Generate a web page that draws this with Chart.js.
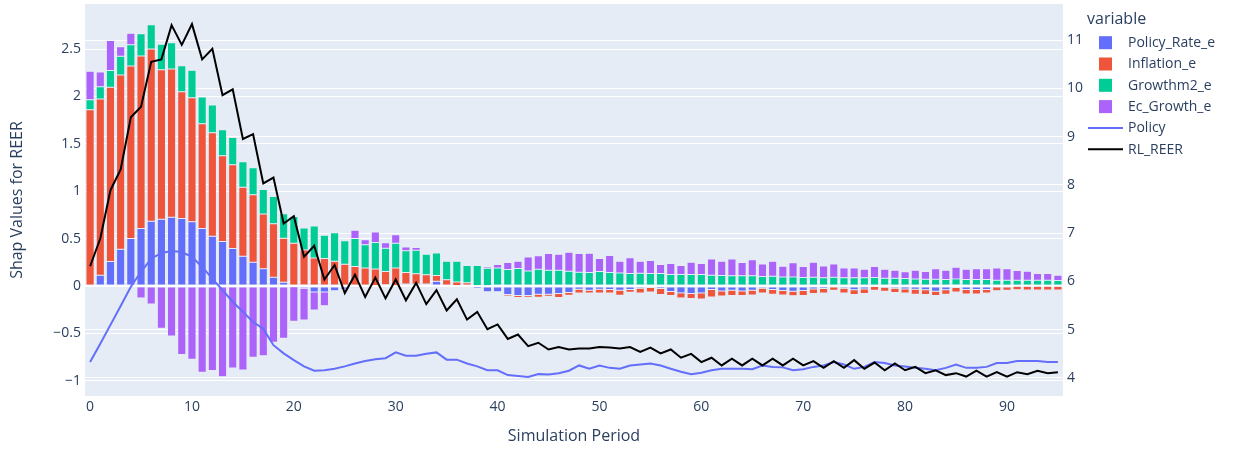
<!DOCTYPE html>
<html>
<head>
<meta charset="utf-8">
<title>Shap Values for REER</title>
<script src="https://cdn.jsdelivr.net/npm/chart.js@4/dist/chart.umd.min.js"></script>
<style>
  html, body { margin: 0; padding: 0; background: #ffffff; }
  #wrap { width: 1236px; height: 451px; }
</style>
</head>
<body>
<div id="wrap"><canvas id="c" width="1236" height="451"></canvas></div>
<script>
// Simulation periods 0..95
const periods = Array.from({ length: 96 }, (_, i) => i);

// SHAP contributions per period (left axis)
const policyRateE = [
  -0.015, 0.113, 0.257, 0.387, 0.50, 0.606, 0.683, 0.704, 0.725, 0.711,
  0.676, 0.606, 0.525, 0.468, 0.394, 0.313, 0.25, 0.18, 0.092, 0.039,
  -0.01, -0.025, -0.065, -0.065, -0.052, -0.035, -0.022, -0.008, 0.005, 0.012,
  0.005, 0.02, 0.02, 0.02, 0.05, 0.01, 0.005, -0.015, -0.028, -0.063,
  -0.063, -0.092, -0.102, -0.102, -0.088, -0.088, -0.081, -0.07, -0.035, -0.046,
  -0.035, -0.039, -0.046, -0.039, -0.025, -0.018, -0.028, -0.06, -0.074, -0.081,
  -0.074, -0.039, -0.053, -0.046, -0.053, -0.046, -0.025, -0.039, -0.049, -0.056,
  -0.049, -0.032, -0.028, -0.011, -0.025, -0.042, -0.032, -0.007, -0.014, -0.025,
  -0.032, -0.035, -0.042, -0.056, -0.042, -0.018, -0.039, -0.039, -0.039, -0.011,
  -0.011, -0.005, -0.005, -0.004, -0.004, -0.004
];
const inflationE = [
  1.86, 1.86, 1.84, 1.84, 1.82, 1.82, 1.817, 1.578, 1.564, 1.338,
  1.31, 1.105, 1.091, 0.905, 0.884, 0.729, 0.711, 0.58, 0.563, 0.465,
  0.451, 0.38, 0.294, 0.29, 0.26, 0.228, 0.205, 0.188, 0.173, 0.14,
  0.185, 0.122, 0.108, 0.098, 0.06, 0.054, 0.037, 0.032, 0.005, 0.003,
  -0.01, -0.015, -0.021, -0.018, -0.032, -0.021, -0.042, -0.028, -0.039, -0.028,
  -0.039, -0.035, -0.053, -0.028, -0.049, -0.046, -0.063, -0.042, -0.053, -0.053,
  -0.063, -0.077, -0.053, -0.056, -0.049, -0.049, -0.049, -0.049, -0.046, -0.049,
  -0.053, -0.049, -0.046, -0.035, -0.049, -0.049, -0.049, -0.039, -0.042, -0.046,
  -0.042, -0.053, -0.049, -0.046, -0.046, -0.046, -0.046, -0.046, -0.035, -0.039,
  -0.035, -0.037, -0.039, -0.039, -0.039, -0.039
];
const growthM2E = [
  0.105, 0.13, 0.176, 0.197, 0.225, 0.236, 0.257, 0.268, 0.278, 0.275,
  0.289, 0.282, 0.292, 0.275, 0.289, 0.268, 0.285, 0.257, 0.289, 0.257,
  0.282, 0.231, 0.338, 0.244, 0.30, 0.249, 0.295, 0.245, 0.28, 0.244,
  0.259, 0.229, 0.247, 0.215, 0.238, 0.196, 0.218, 0.183, 0.21, 0.183,
  0.19, 0.173, 0.183, 0.158, 0.176, 0.165, 0.165, 0.155, 0.144, 0.141,
  0.151, 0.141, 0.137, 0.13, 0.134, 0.13, 0.13, 0.12, 0.12, 0.12,
  0.12, 0.113, 0.109, 0.106, 0.106, 0.106, 0.099, 0.102, 0.095, 0.095,
  0.088, 0.092, 0.085, 0.092, 0.085, 0.085, 0.085, 0.088, 0.081, 0.081,
  0.077, 0.074, 0.07, 0.07, 0.067, 0.074, 0.067, 0.067, 0.067, 0.06,
  0.06, 0.06, 0.06, 0.06, 0.06, 0.056
];
const ecGrowthE = [
  0.30, 0.155, 0.317, 0.10, 0.12, -0.127, -0.19, -0.447, -0.528, -0.725,
  -0.775, -0.912, -0.894, -0.958, -0.866, -0.887, -0.754, -0.736, -0.595, -0.553,
  -0.363, -0.335, -0.19, -0.145, 0, 0, 0.088, 0.055, 0.11, 0.06,
  0.09, 0.04, 0.03, 0.005, 0.01, -0.02, -0.02, 0, 0, 0.017,
  0.035, 0.073, 0.077, 0.148, 0.141, 0.177, 0.17, 0.201, 0.198, 0.204,
  0.138, 0.179, 0.123, 0.166, 0.126, 0.138, 0.095, 0.116, 0.095, 0.13,
  0.116, 0.172, 0.151, 0.179, 0.14, 0.169, 0.133, 0.158, 0.113, 0.148,
  0.116, 0.158, 0.126, 0.14, 0.105, 0.105, 0.091, 0.116, 0.095, 0.084,
  0.071, 0.091, 0.081, 0.11, 0.098, 0.123, 0.109, 0.113, 0.113, 0.13,
  0.12, 0.102, 0.095, 0.07, 0.07, 0.057
];

// Levels on the right axis
const policyLevel = [
  4.33, 4.71, 5.10, 5.49, 5.89, 6.20, 6.47, 6.59, 6.63, 6.61,
  6.51, 6.30, 6.06, 5.82, 5.58, 5.37, 5.16, 5.02, 4.68, 4.51,
  4.37, 4.24, 4.15, 4.16, 4.19, 4.24, 4.30, 4.35, 4.39, 4.41,
  4.53, 4.46, 4.46, 4.50, 4.53, 4.38, 4.38, 4.30, 4.24, 4.16,
  4.16, 4.06, 4.04, 4.02, 4.08, 4.07, 4.10, 4.15, 4.26, 4.19,
  4.26, 4.21, 4.19, 4.26, 4.28, 4.30, 4.26, 4.19, 4.13, 4.08,
  4.11, 4.16, 4.19, 4.19, 4.19, 4.18, 4.26, 4.23, 4.22, 4.16,
  4.18, 4.23, 4.26, 4.33, 4.28, 4.19, 4.23, 4.33, 4.31, 4.26,
  4.24, 4.21, 4.19, 4.16, 4.21, 4.28, 4.21, 4.21, 4.23, 4.31,
  4.31, 4.35, 4.35, 4.35, 4.33, 4.33
];
const rlReer = [
  6.315, 6.89, 7.89, 8.32, 9.40, 9.62, 10.55, 10.60, 11.31, 10.90,
  11.33, 10.60, 10.82, 9.86, 9.98, 8.95, 9.05, 8.03, 8.15, 7.20,
  7.35, 6.51, 6.74, 6.04, 6.34, 5.76, 6.14, 5.68, 6.08, 5.65,
  6.04, 5.61, 5.97, 5.53, 5.82, 5.40, 5.63, 5.21, 5.37, 5.01,
  5.11, 4.81, 4.90, 4.66, 4.73, 4.59, 4.64, 4.59, 4.61, 4.61,
  4.64, 4.63, 4.61, 4.64, 4.54, 4.63, 4.51, 4.59, 4.42, 4.50,
  4.33, 4.42, 4.26, 4.40, 4.26, 4.40, 4.26, 4.40, 4.26, 4.40,
  4.26, 4.35, 4.21, 4.35, 4.21, 4.37, 4.19, 4.32, 4.16, 4.30,
  4.16, 4.23, 4.10, 4.16, 4.06, 4.10, 4.03, 4.15, 4.03, 4.12,
  4.03, 4.12, 4.08, 4.15, 4.10, 4.12
];

const FONT = '"Open Sans", Verdana, Arial, sans-serif';
const INK = '#2a3f5f';
const PLOT_BG = '#E5ECF6';

Chart.defaults.font.family = FONT;
Chart.defaults.color = INK;

const fmt = v => {
  const n = Number(v.toFixed(3));
  return (n < 0 ? '\u2212' : '') + String(Math.abs(n));
};

// Light panel behind the plotting area
const plotBackground = {
  id: 'plotBackground',
  beforeDraw(chart) {
    const { ctx, chartArea: a } = chart;
    ctx.save();
    ctx.fillStyle = PLOT_BG;
    ctx.fillRect(a.left, a.top, a.right - a.left, a.bottom - a.top);
    ctx.restore();
  }
};

// Legend column on the right, with a "variable" heading
const sideLegend = {
  id: 'sideLegend',
  afterDraw(chart) {
    const { ctx } = chart;
    const x0 = chart.chartArea.right + 24;
    ctx.save();
    ctx.textAlign = 'left';
    ctx.textBaseline = 'middle';
    ctx.fillStyle = INK;
    ctx.font = '16px ' + FONT;
    ctx.fillText('variable', x0, 19);
    ctx.font = '14px ' + FONT;
    chart.data.datasets.forEach((ds, i) => {
      const y = 42.7 + i * 21.3;
      if (ds.type === 'line') {
        ctx.strokeStyle = ds.borderColor;
        ctx.lineWidth = 2;
        ctx.beginPath();
        ctx.moveTo(x0 + 1, y);
        ctx.lineTo(x0 + 36, y);
        ctx.stroke();
      } else {
        ctx.fillStyle = ds.backgroundColor;
        ctx.fillRect(x0 + 12, y - 6.5, 13, 13);
      }
      ctx.fillStyle = INK;
      ctx.fillText(ds.label, x0 + 41, y + 0.5);
    });
    ctx.restore();
  }
};

const barStyle = {
  type: 'bar',
  yAxisID: 'y',
  order: 2,
  borderColor: PLOT_BG,
  borderWidth: 0.5,
  borderSkipped: false,
  categoryPercentage: 1.0,
  barPercentage: 0.8
};

new Chart(document.getElementById('c'), {
  data: {
    labels: periods,
    datasets: [
      { ...barStyle, label: 'Policy_Rate_e', data: policyRateE, backgroundColor: '#636efa' },
      { ...barStyle, label: 'Inflation_e', data: inflationE, backgroundColor: '#EF553B' },
      { ...barStyle, label: 'Growthm2_e', data: growthM2E, backgroundColor: '#00cc96' },
      { ...barStyle, label: 'Ec_Growth_e', data: ecGrowthE, backgroundColor: '#ab63fa' },
      { type: 'line', label: 'Policy', data: policyLevel, yAxisID: 'y2', order: 1,
        borderColor: '#636efa', borderWidth: 2, pointRadius: 0, tension: 0, fill: false },
      { type: 'line', label: 'RL_REER', data: rlReer, yAxisID: 'y2', order: 0,
        borderColor: '#000000', borderWidth: 2, pointRadius: 0, tension: 0, fill: false }
    ]
  },
  options: {
    responsive: false,
    animation: false,
    devicePixelRatio: 1,
    layout: { padding: { top: 4, left: 0, right: 0, bottom: 0 } },
    plugins: {
      legend: { display: false },
      tooltip: { enabled: false }
    },
    scales: {
      x: {
        type: 'category',
        stacked: true,
        offset: true,
        grid: { display: false, drawTicks: false },
        border: { display: false },
        ticks: {
          autoSkip: false,
          maxRotation: 0,
          padding: 3,
          font: { size: 14 },
          callback(value, index) { return index % 10 === 0 ? String(this.getLabelForValue(value)) : ''; }
        },
        title: { display: true, text: 'Simulation Period', font: { size: 16 }, padding: { top: 0, bottom: 5 } },
        afterFit(s) { s.height = 55; s.paddingLeft = 0; s.paddingRight = 0; }
      },
      y: {
        position: 'left',
        stacked: true,
        min: -1.162,
        max: 2.975,
        grid: {
          color: '#ffffff',
          lineWidth: c => (c.tick && c.tick.value === 0 ? 2 : 1),
          drawTicks: false
        },
        border: { display: false },
        ticks: { stepSize: 0.5, includeBounds: false, padding: 4, font: { size: 14 }, callback: v => fmt(v) },
        title: { display: true, text: 'Shap Values for REER', font: { size: 16 }, padding: { top: 8, bottom: 0 } },
        afterFit(s) { s.width = 85; s.paddingTop = 0; s.paddingBottom = 0; }
      },
      y2: {
        position: 'right',
        min: 3.627,
        max: 11.747,
        grid: { color: '#ffffff', lineWidth: 1, drawTicks: false },
        border: { display: false },
        ticks: { stepSize: 1, includeBounds: false, padding: 4, font: { size: 14 }, callback: v => fmt(v) },
        afterFit(s) { s.width = 173; s.paddingTop = 0; s.paddingBottom = 0; }
      }
    }
  },
  plugins: [plotBackground, sideLegend]
});
</script>
</body>
</html>
